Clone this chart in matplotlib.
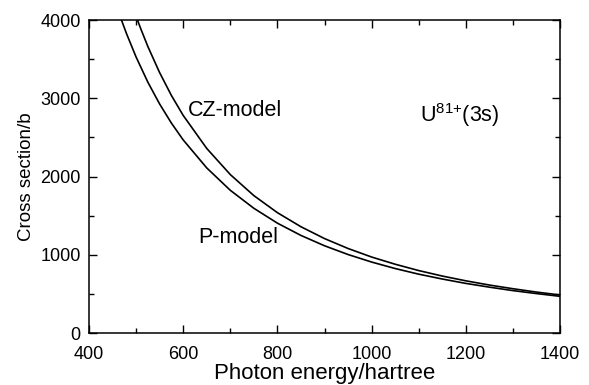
import matplotlib.pyplot as plt
from matplotlib.ticker import MultipleLocator

plt.rcParams['font.family'] = ['Liberation Sans', 'DejaVu Sans']
plt.rcParams['mathtext.default'] = 'regular'

# values
energy_p = [469, 480, 500, 525, 550, 575, 600, 650, 700, 750, 800, 850, 900,
            950, 1000, 1050, 1100, 1150, 1200, 1250, 1300, 1350, 1400]
sigma_p = [4000, 3822, 3528, 3206, 2927, 2683, 2468, 2110, 1824, 1594, 1404,
           1247, 1115, 1003, 907, 824, 752, 690, 634, 586, 542, 504, 469]

energy_cz = [503, 510, 525, 550, 575, 600, 650, 700, 750, 800, 850, 900, 950,
             1000, 1050, 1100, 1150, 1200, 1250, 1300, 1350, 1400]
sigma_cz = [4000, 3888, 3662, 3328, 3036, 2781, 2359, 2025, 1756, 1538, 1358,
            1207, 1080, 971, 879, 798, 728, 667, 613, 566, 523, 486]

fig = plt.figure(figsize=(5.89, 3.85), dpi=100)
ax = fig.add_axes([0.151, 0.135, 0.800, 0.813])

ax.plot(energy_cz, sigma_cz, color='black', lw=1.2)
ax.plot(energy_p, sigma_p, color='black', lw=1.2)

ax.text(610, 2850, 'CZ-model', fontsize=15.5, va='center', ha='left')
ax.text(631, 1215, 'P-model', fontsize=15.5, va='center', ha='left')
ax.text(1102, 2785, r'U$^{81{+}}$(3s)', fontsize=15.5, va='center', ha='left')

ax.set_xlim(400, 1400)
ax.set_ylim(0, 4000)
ax.xaxis.set_major_locator(MultipleLocator(200))
ax.xaxis.set_minor_locator(MultipleLocator(100))
ax.yaxis.set_major_locator(MultipleLocator(1000))
ax.yaxis.set_minor_locator(MultipleLocator(500))
ax.tick_params(which='both', direction='in', top=True, right=True, width=1.0,
               labelsize=13)
ax.tick_params(which='major', length=6)
ax.tick_params(which='minor', length=3.5)
ax.tick_params(axis='x', which='major', pad=9)
ax.tick_params(axis='y', which='major', pad=6)
for s in ax.spines.values():
    s.set_linewidth(1.1)

ax.set_xlabel('Photon energy/hartree', fontsize=16, labelpad=0)
ax.set_ylabel('Cross section/b', fontsize=13.5, labelpad=4)

fig.savefig('out.png', dpi=100)
